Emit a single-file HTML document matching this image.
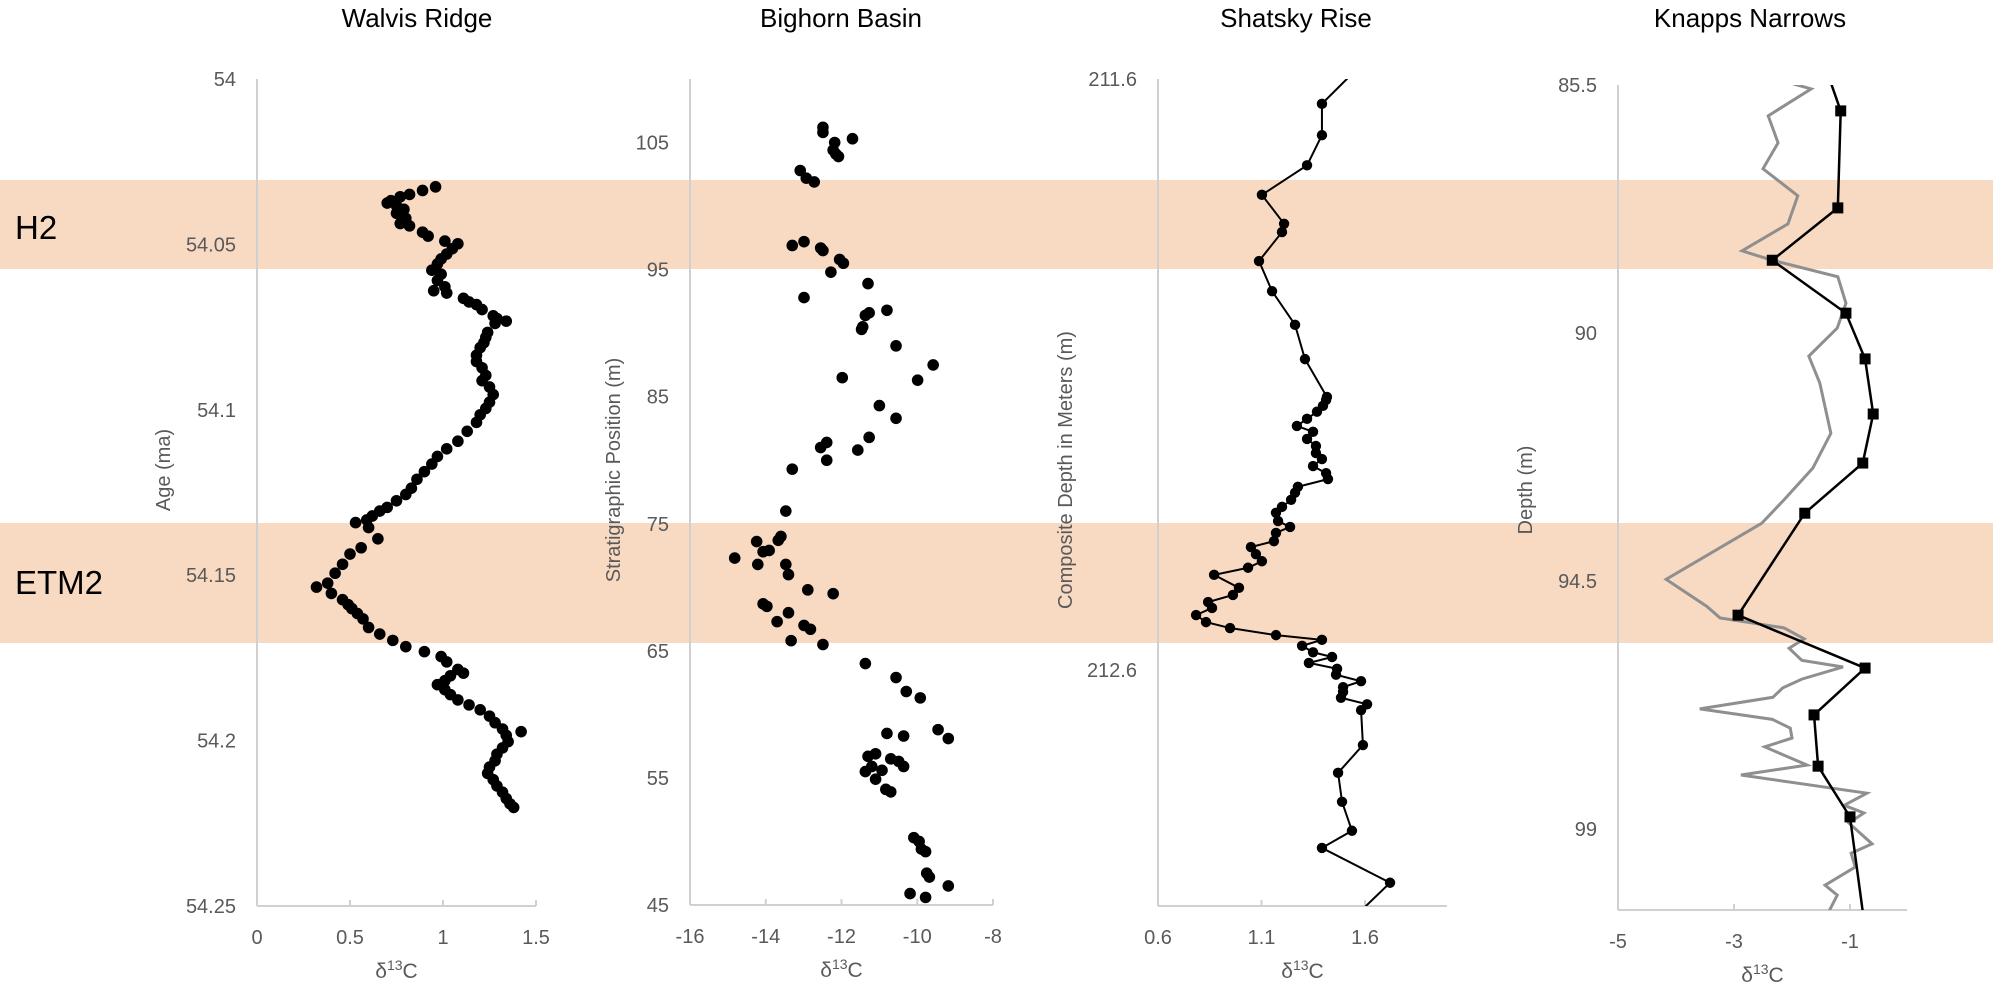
<!DOCTYPE html>
<html><head><meta charset="utf-8"><style>
html,body{margin:0;padding:0;background:#fff;}
svg{display:block;font-family:"Liberation Sans",sans-serif;}
</style></head><body>
<svg id="chart" width="1993" height="987" viewBox="0 0 1993 987" xmlns="http://www.w3.org/2000/svg">
<rect x="0" y="0" width="1993" height="987" fill="#fff"/>
<rect x="0" y="180" width="1993" height="89" fill="#f8d9c2"/>
<rect x="0" y="523" width="1993" height="120" fill="#f8d9c2"/>
<text x="15" y="239" font-size="33" fill="#000">H2</text>
<text x="15" y="594" font-size="33" fill="#000">ETM2</text>
<g id="plots"></g>
</svg>
<script>
// ---- Walvis Ridge data ----
const walvisAge=[54.0326,54.0337,54.0349,54.0356,54.0368,54.0375,54.0383,54.0394,54.0406,54.0421,54.0437,54.0444,54.0463,54.0475,54.0490,54.0498,54.0513,54.0529,54.0544,54.0559,54.0578,54.0590,54.0609,54.0628,54.0640,54.0647,54.0663,54.0674,54.0682,54.0697,54.0716,54.0724,54.0732,54.0739,54.0766,54.0781,54.0797,54.0812,54.0835,54.0854,54.0873,54.0896,54.0912,54.0931,54.0954,54.0977,54.0996,54.1015,54.1038,54.1065,54.1095,54.1118,54.1141,54.1164,54.1187,54.1210,54.1237,54.1256,54.1275,54.1295,54.1306,54.1321,54.1333,54.1341,54.1356,54.1390,54.1417,54.1436,54.1467,54.1494,54.1524,54.1536,54.1555,54.1574,54.1589,54.1601,54.1616,54.1632,54.1658,54.1678,54.1697,54.1716,54.1731,54.1746,54.1762,54.1785,54.1796,54.1804,54.1819,54.1831,54.1846,54.1861,54.1877,54.1892,54.1907,54.1926,54.1946,54.1965,54.1984,54.2003,54.2022,54.2041,54.2061,54.2080,54.2099,54.2118,54.2137,54.2156,54.2175,54.2191,54.2202,54.1973];
const walvisD13C=[0.96,0.89,0.82,0.77,0.72,0.70,0.75,0.79,0.75,0.80,0.77,0.82,0.89,0.92,1.01,1.08,1.05,1.02,0.99,0.97,0.94,0.99,0.97,1.01,0.95,1.02,1.11,1.14,1.18,1.21,1.27,1.29,1.34,1.28,1.24,1.23,1.22,1.20,1.18,1.18,1.21,1.23,1.21,1.25,1.27,1.25,1.23,1.20,1.18,1.13,1.08,1.02,0.97,0.94,0.90,0.86,0.83,0.80,0.75,0.70,0.66,0.62,0.59,0.53,0.60,0.65,0.56,0.50,0.46,0.42,0.38,0.32,0.40,0.46,0.49,0.51,0.54,0.57,0.60,0.66,0.73,0.80,0.90,0.99,1.02,1.08,1.11,1.04,1.01,0.97,1.01,1.04,1.08,1.14,1.20,1.25,1.28,1.32,1.34,1.35,1.32,1.29,1.28,1.25,1.24,1.27,1.29,1.32,1.34,1.36,1.38,1.42];
// ---- Bighorn Basin data ----
const bighornPos=[106.2,105.8,105.0,105.3,104.4,103.9,104.1,102.8,102.2,101.9,96.9,97.2,96.7,96.5,95.8,95.5,94.8,93.9,92.8,91.8,91.4,91.6,90.3,90.5,89.0,87.5,86.5,86.3,84.3,83.3,81.8,81.4,81.0,80.0,80.8,79.3,76.0,74.0,73.7,73.6,72.8,72.9,72.3,71.8,71.8,71.0,69.8,69.5,68.7,68.5,68.0,67.3,67.0,66.7,65.8,65.5,64.0,62.9,61.8,61.3,58.5,58.3,58.8,58.1,56.7,56.9,56.5,56.3,55.9,55.6,55.5,54.9,54.1,55.9,53.9,50.3,50.0,49.4,49.2,47.5,47.2,46.5,45.9,45.6];
const bighornD13C=[-12.49,-12.49,-12.18,-11.71,-12.22,-12.08,-12.15,-13.09,-12.93,-12.72,-13.30,-12.99,-12.55,-12.49,-12.05,-11.95,-12.28,-11.30,-12.99,-10.80,-11.37,-11.27,-11.47,-11.44,-10.56,-9.58,-11.98,-9.99,-11.00,-10.56,-11.27,-12.39,-12.55,-12.39,-11.57,-13.30,-13.47,-13.60,-13.67,-14.24,-14.07,-13.91,-14.82,-14.21,-13.47,-13.40,-12.89,-12.22,-14.07,-13.97,-13.40,-13.70,-12.99,-12.82,-13.33,-12.49,-11.37,-10.56,-10.29,-9.92,-10.80,-10.36,-9.45,-9.18,-11.30,-11.10,-10.70,-10.49,-11.20,-10.93,-11.37,-11.10,-10.83,-10.36,-10.70,-10.09,-9.95,-9.89,-9.78,-9.75,-9.68,-9.18,-10.19,-9.78];
// ---- Shatsky Rise data ----
const shatskyDepth=[211.642,211.695,211.746,211.796,211.845,211.859,211.908,211.959,212.016,212.074,212.138,212.143,212.153,212.163,212.175,212.187,212.197,212.209,212.221,212.233,212.243,212.255,212.267,212.277,212.290,212.300,212.312,212.324,212.334,212.348,212.358,212.368,212.382,212.392,212.404,212.416,212.427,212.439,212.461,212.473,212.485,212.495,212.507,212.519,212.529,212.541,212.549,212.559,212.570,212.578,212.588,212.598,212.608,212.619,212.629,212.637,212.647,212.658,212.668,212.727,212.774,212.823,212.872,212.901,212.960];
const shatskyD13C=[1.392,1.392,1.320,1.102,1.209,1.199,1.088,1.151,1.262,1.310,1.416,1.412,1.397,1.368,1.320,1.271,1.349,1.320,1.363,1.363,1.392,1.349,1.412,1.421,1.276,1.262,1.243,1.199,1.170,1.180,1.238,1.170,1.160,1.049,1.073,1.102,1.035,0.871,0.991,0.962,0.842,0.861,0.784,0.832,0.948,1.170,1.392,1.296,1.349,1.441,1.329,1.465,1.460,1.581,1.494,1.494,1.484,1.610,1.581,1.590,1.470,1.489,1.537,1.392,1.721];
const shatskyLineStart=[211.551,1.653];
const shatskyLineEnd=[213.040,1.484];
// ---- Knapps Narrows data ----
const knappsDepth=[85.97,87.73,88.68,89.64,90.47,91.47,92.36,93.27,95.12,96.08,96.93,97.86,98.78];
const knappsD13C=[-1.16,-1.21,-2.34,-1.07,-0.74,-0.60,-0.78,-1.78,-2.93,-0.74,-1.62,-1.55,-1.00];
const knappsLineStart=[85.46,-1.33];
const knappsLineEnd=[100.5,-0.78];
const knappsGreyDepth=[85.48,85.57,86.06,86.55,87.02,87.51,88.02,88.51,88.68,88.98,89.46,89.91,90.42,90.91,91.82,92.45,93.03,93.45,94.47,94.96,95.17,95.35,95.55,95.72,95.94,96.06,96.28,96.44,96.61,96.82,97.01,97.17,97.35,97.51,97.84,98.02,98.35,98.57,98.71,98.89,99.27,99.44,99.69,100.02,100.20,100.53];
const knappsGreyD13C=[-1.98,-1.67,-2.41,-2.24,-2.50,-1.90,-2.07,-2.86,-2.34,-1.21,-1.07,-1.22,-1.71,-1.52,-1.33,-1.64,-2.14,-2.52,-4.17,-3.47,-3.24,-2.14,-1.79,-2.05,-1.83,-1.12,-1.83,-2.16,-2.33,-3.59,-2.34,-2.03,-2.00,-2.47,-1.74,-2.88,-0.71,-1.10,-0.76,-1.02,-0.62,-0.98,-0.91,-1.43,-1.22,-1.38];
// ---- axis tick labels ----
const walvisYTicks=[54,54.05,54.1,54.15,54.2,54.25];
const walvisYLabels=["54","54.05","54.1","54.15","54.2","54.25"];
const walvisXTicks=[0,0.5,1,1.5];
const walvisXLabels=["0","0.5","1","1.5"];
const bighornYTicks=[45,55,65,75,85,95,105];
const bighornXTicks=[-16,-14,-12,-10,-8];
const shatskyYTicks=[211.6,212.6];
const shatskyYLabels=["211.6","212.6"];
const shatskyXTicks=[0.6,1.1,1.6];
const shatskyXLabels=["0.6","1.1","1.6"];
const knappsYTicks=[85.5,90,94.5,99];
const knappsYLabels=["85.5","90","94.5","99"];
const knappsXTicks=[-5,-3,-1];

const NS="http://www.w3.org/2000/svg";
const root=document.getElementById('plots');
function mk(tag,attrs,parent){const e=document.createElementNS(NS,tag);for(const k in attrs)e.setAttribute(k,attrs[k]);(parent||root).appendChild(e);return e;}
function lin(d0,d1,r0,r1){return v=>r0+(v-d0)*(r1-r0)/(d1-d0);}

function panel(p){
  const g=mk('g',{});
  
  
  const sx=lin(p.xd[0],p.xd[1],p.x0,p.x1), sy=lin(p.yd[0],p.yd[1],p.y0,p.y1);
  const t=mk('text',{x:p.tx,y:27,'font-size':26,'text-anchor':'middle',fill:'#000'},g);t.textContent=p.title;
  
  
  const ya=mk('line',{x1:p.x0,y1:p.y0,x2:p.x0,y2:p.yb,stroke:'#d0d0d0','stroke-width':2},g);
  
  
  const xa=mk('line',{x1:p.x0,y1:p.yb,x2:p.xe,y2:p.yb,stroke:'#d0d0d0','stroke-width':2},g);
  
  
  p.yt.forEach((v,i)=>{
    const l=mk('text',{x:p.x0-21,y:sy(v)+7,'font-size':20,'text-anchor':'end',fill:'#595959'},g);
    l.textContent=p.yl?p.yl[i]:String(v);
    
    
  });
  p.xt.forEach((v,i)=>{
    const x=sx(v);
    const tk=mk('line',{x1:x,y1:p.yb,x2:x,y2:p.yb-6,stroke:'#d0d0d0','stroke-width':2},g);
    
    
    const l=mk('text',{x:x,y:p.yb+38,'font-size':20,'text-anchor':'middle',fill:'#595959'},g);
    l.textContent=p.xl?p.xl[i]:String(v);
    
    
  });
  const xt=mk('text',{x:(p.x0+p.xe)/2,y:p.yb+72,'font-size':21,'text-anchor':'middle',fill:'#595959'},g);
  xt.innerHTML='δ<tspan dy="-8" font-size="14">13</tspan><tspan dy="8">C</tspan>';
  
  
  const yt=mk('text',{x:0,y:0,'font-size':20,'text-anchor':'middle',fill:'#595959',transform:'translate('+p.ytx+','+p.yty+') rotate(-90)'},g);
  yt.textContent=p.ytitle;
  
  
  const cp=mk('clipPath',{id:'clip-'+p.id},g);
  mk('rect',{x:p.x0,y:p.y0,width:p.xe-p.x0+20,height:p.yb-p.y0},cp);
  const sg=mk('g',{'clip-path':'url(#clip-'+p.id+')'},g);
  return {g:sg,sx,sy};
}

// Walvis Ridge
(function(){
  const P=panel({id:'walvis-ridge',title:'Walvis Ridge',tx:417,x0:257,x1:536,xd:[0,1.5],xe:536,y0:79,y1:906,yd:[54,54.25],yb:906,yt:walvisYTicks,yl:walvisYLabels,xt:walvisXTicks,xl:walvisXLabels,ytitle:'Age  (ma)',ytx:170,yty:470});
  walvisAge.forEach((a,i)=>{
    const c=mk('circle',{cx:P.sx(walvisD13C[i]),cy:P.sy(a),r:5.8,fill:'#000'},P.g);
    
    
  });
})();
// Bighorn Basin
(function(){
  const P=panel({id:'bighorn-basin',title:'Bighorn Basin',tx:841,x0:690,x1:993,xd:[-16,-8],xe:993,y0:79,y1:905,yd:[110,45],yb:905,yt:bighornYTicks,xt:bighornXTicks,ytitle:'Stratigraphic Position (m)',ytx:620,yty:470});
  bighornPos.forEach((v,i)=>{
    const c=mk('circle',{cx:P.sx(bighornD13C[i]),cy:P.sy(v),r:5.8,fill:'#000'},P.g);
    
    
  });
})();
// Shatsky Rise
(function(){
  const P=panel({id:'shatsky-rise',title:'Shatsky Rise',tx:1296,x0:1158,x1:1365,xd:[0.6,1.6],xe:1447,y0:79,y1:670,yd:[211.6,212.6],yb:906,yt:shatskyYTicks,yl:shatskyYLabels,xt:shatskyXTicks,xl:shatskyXLabels,ytitle:'Composite Depth in Meters (m)',ytx:1072,yty:470});
  let pts=[[P.sx(shatskyLineStart[1]),P.sy(shatskyLineStart[0])]];
  shatskyDepth.forEach((d,i)=>pts.push([P.sx(shatskyD13C[i]),P.sy(d)]));
  pts.push([P.sx(shatskyLineEnd[1]),P.sy(shatskyLineEnd[0])]);
  const l=mk('polyline',{points:pts.map(p=>p.join(',')).join(' '),fill:'none',stroke:'#000','stroke-width':2},P.g);
  
  
  shatskyDepth.forEach((d,i)=>{
    const c=mk('circle',{cx:P.sx(shatskyD13C[i]),cy:P.sy(d),r:5.2,fill:'#000'},P.g);
    
    
  });
})();
// Knapps Narrows
(function(){
  const P=panel({id:'knapps-narrows',title:'Knapps Narrows',tx:1750,x0:1618,x1:1850,xd:[-5,-1],xe:1907,y0:85,y1:829,yd:[85.5,99],yb:910,yt:knappsYTicks,yl:knappsYLabels,xt:knappsXTicks,ytitle:'Depth (m)',ytx:1532,yty:490});
  const gp=knappsGreyDepth.map((d,i)=>P.sx(knappsGreyD13C[i])+','+P.sy(d)).join(' ');
  const gl=mk('polyline',{points:gp,fill:'none',stroke:'#8f8f8f','stroke-width':3,'stroke-linejoin':'miter'},P.g);
  
  
  let pts=[[P.sx(knappsLineStart[1]),P.sy(knappsLineStart[0])]];
  knappsDepth.forEach((d,i)=>pts.push([P.sx(knappsD13C[i]),P.sy(d)]));
  pts.push([P.sx(knappsLineEnd[1]),P.sy(knappsLineEnd[0])]);
  const l=mk('polyline',{points:pts.map(p=>p.join(',')).join(' '),fill:'none',stroke:'#000','stroke-width':2.5},P.g);
  
  
  knappsDepth.forEach((d,i)=>{
    const r=mk('rect',{x:P.sx(knappsD13C[i])-5.5,y:P.sy(d)-5.5,width:11,height:11,fill:'#000'},P.g);
    
    
  });
})();
</script>
</body></html>
